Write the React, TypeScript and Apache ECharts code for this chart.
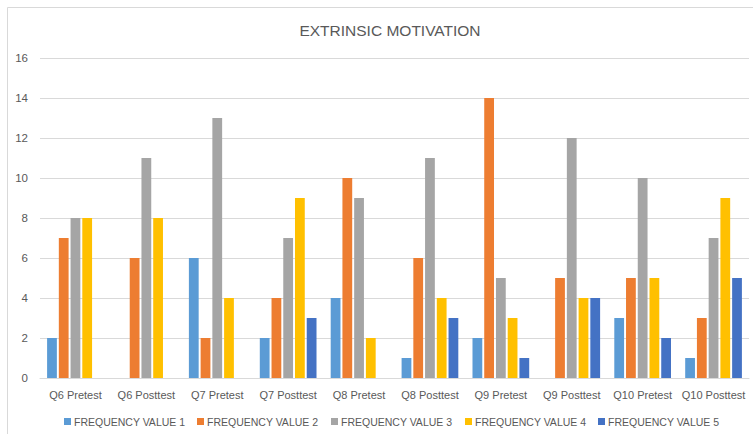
import React, { useEffect, useRef } from "react";
import * as echarts from "echarts";

const categories = [
  "Q6 Pretest",
  "Q6 Posttest",
  "Q7 Pretest",
  "Q7 Posttest",
  "Q8 Pretest",
  "Q8 Posttest",
  "Q9 Pretest",
  "Q9 Posttest",
  "Q10 Pretest",
  "Q10 Posttest",
];

// null = no responses in that category (no bar drawn)
const value1 = [2, null, 6, 2, 4, 1, 2, null, 3, 1];
const value2 = [7, 6, 2, 4, 10, 6, 14, 5, 5, 3];
const value3 = [8, 11, 13, 7, 9, 11, 5, 12, 10, 7];
const value4 = [8, 8, 4, 9, 2, 4, 3, 4, 5, 9];
const value5 = [null, null, null, 3, null, 3, 1, 4, 2, 5];

const seriesNames = [
  "FREQUENCY VALUE 1",
  "FREQUENCY VALUE 2",
  "FREQUENCY VALUE 3",
  "FREQUENCY VALUE 4",
  "FREQUENCY VALUE 5",
];
const seriesColors = ["#5B9BD5", "#ED7D31", "#A5A5A5", "#FFC000", "#4472C4"];
const legendLefts = [64, 197, 331, 465, 598];

const FONT = "'Liberation Sans', 'DejaVu Sans', sans-serif";

export default function App() {
  const ref = useRef<HTMLDivElement>(null);

  useEffect(() => {
    if (!ref.current) return;
    const chart = echarts.init(ref.current, null, { renderer: "svg" });
    const values = [value1, value2, value3, value4, value5];

    chart.setOption({
      animation: false,
      backgroundColor: "#ffffff",
      textStyle: { fontFamily: FONT },
      title: {
        text: "EXTRINSIC MOTIVATION",
        left: 385,
        top: 17,
        textAlign: "center",
        textStyle: {
          fontFamily: FONT,
          fontSize: 15.5,
          fontWeight: "normal",
          color: "#595959",
        },
      },
      graphic: [
        {
          type: "rect",
          shape: { x: 7.5, y: 7.5, width: 760, height: 440 },
          style: { fill: "none", stroke: "#D9D9D9", lineWidth: 1 },
          silent: true,
        },
      ],
      legend: seriesNames.map((name, i) => ({
        data: [name],
        left: legendLefts[i],
        top: 416,
        padding: 0,
        itemWidth: 7,
        itemHeight: 7,
        icon: "rect",
        textStyle: { fontFamily: FONT, fontSize: 10.5, color: "#595959", padding: [0, 0, 0, -2] },
      })),
      grid: { left: 40, right: 4, top: 58, bottom: 56, containLabel: false },
      xAxis: {
        type: "category",
        data: categories,
        axisLine: { lineStyle: { color: "#D9D9D9" } },
        axisTick: { show: false },
        axisLabel: {
          color: "#595959",
          fontSize: 11,
          margin: 11,
          interval: 0,
          hideOverlap: false,
          fontFamily: FONT,
        },
      },
      yAxis: {
        type: "value",
        min: 0,
        max: 16,
        interval: 2,
        axisLine: { show: false },
        axisTick: { show: false },
        axisLabel: { color: "#595959", fontSize: 11.5, margin: 12, fontFamily: FONT },
        splitLine: { lineStyle: { color: "#D9D9D9" } },
      },
      series: seriesNames.map((name, i) => ({
        name,
        type: "bar",
        data: values[i],
        barGap: "20%",
        barCategoryGap: "20%",
        itemStyle: { color: seriesColors[i] },
      })),
    });

    return () => chart.dispose();
  }, []);

  return (
    <div
      ref={ref}
      style={{ position: "fixed", left: 0, top: 0, width: 753, height: 434, background: "#fff" }}
    />
  );
}
